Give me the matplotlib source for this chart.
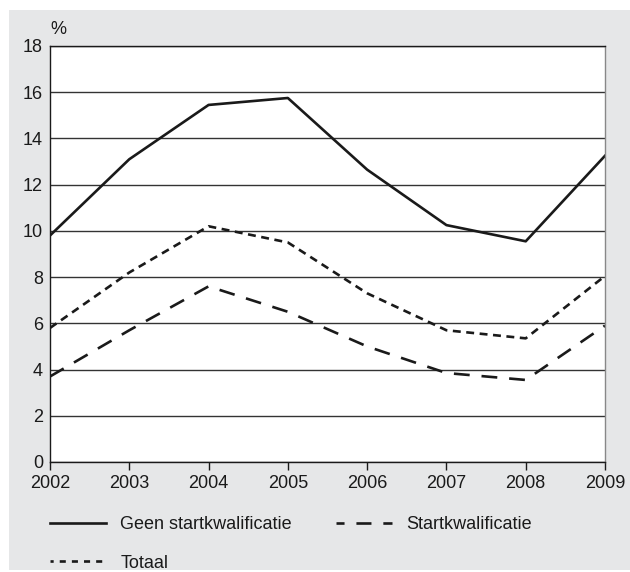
import matplotlib
matplotlib.use("Agg")
import matplotlib.pyplot as plt
from matplotlib.patches import Rectangle
from matplotlib.lines import Line2D

plt.rcParams['font.family'] = ['Liberation Sans', 'DejaVu Sans']

# Gegevens
jaren = [2002, 2003, 2004, 2005, 2006, 2007, 2008, 2009]
geen_start = [9.8, 13.1, 15.45, 15.75, 12.65, 10.25, 9.55, 13.25]
start = [3.7, 5.7, 7.6, 6.5, 5.0, 3.85, 3.55, 5.9]
totaal = [5.8, 8.2, 10.2, 9.5, 7.3, 5.7, 5.35, 8.05]
yticks = [0, 2, 4, 6, 8, 10, 12, 14, 16, 18]

fs = 13
kleur = '#1a1a1a'
lw = 1.9

fig = plt.figure(figsize=(6.3, 5.72), dpi=100, facecolor='white')
# grijze achtergrond
fig.add_artist(Rectangle((9 / 630, 2 / 572), 1, 1 - 12 / 572, transform=fig.transFigure,
                         facecolor='#e6e7e8', edgecolor='none', zorder=-10))

ax = fig.add_axes([50 / 630, 110 / 572, 555 / 630, 416 / 572])
ax.set_facecolor('white')

ax.plot(jaren, geen_start, color=kleur, lw=lw)
ax.plot(jaren, start, color=kleur, lw=lw, dashes=(6, 4.5))
ax.plot(jaren, totaal, color=kleur, lw=lw, dashes=(3.0, 2.1))

ax.set_xlim(2002, 2009)
ax.set_ylim(0, 18)
ax.set_xticks(jaren)
ax.set_yticks(yticks)
ax.yaxis.grid(True, color='#333333', lw=1.0)
ax.set_axisbelow(True)
ax.tick_params(axis='x', direction='out', length=6, width=1, labelsize=fs, pad=3, colors=kleur)
ax.tick_params(axis='y', direction='out', length=0, width=1, labelsize=fs, pad=5, colors=kleur)
for s in ['left', 'bottom', 'top']:
    ax.spines[s].set_color(kleur)
    ax.spines[s].set_linewidth(1.0)
ax.spines['right'].set_color('#888888')
ax.spines['right'].set_linewidth(1.0)

fig.text(58 / 630, 1 - 29 / 572, '%', fontsize=fs, ha='center', va='center', color=kleur)

# legenda met eigen streeppatronen
h1 = Line2D([], [], color=kleur, lw=lw, label='Geen startkwalificatie')
h2 = Line2D([], [], color=kleur, lw=lw, linestyle=(2.65, (5.7, 4.5)), label='Startkwalificatie')
h3 = Line2D([], [], color=kleur, lw=lw, linestyle=(1.1, (2.3, 2.3)), label='Totaal')
fig.legend(handles=[h1, h3, h2], loc='upper left', bbox_to_anchor=(50 / 630, 1 - 516 / 572),
           ncol=2, frameon=False, fontsize=fs, handlelength=3.1, handletextpad=0.8,
           columnspacing=2.45, labelspacing=1.2, borderpad=0, borderaxespad=0,
           labelcolor=kleur)

fig.savefig('out.png', dpi=100, facecolor=fig.get_facecolor())
